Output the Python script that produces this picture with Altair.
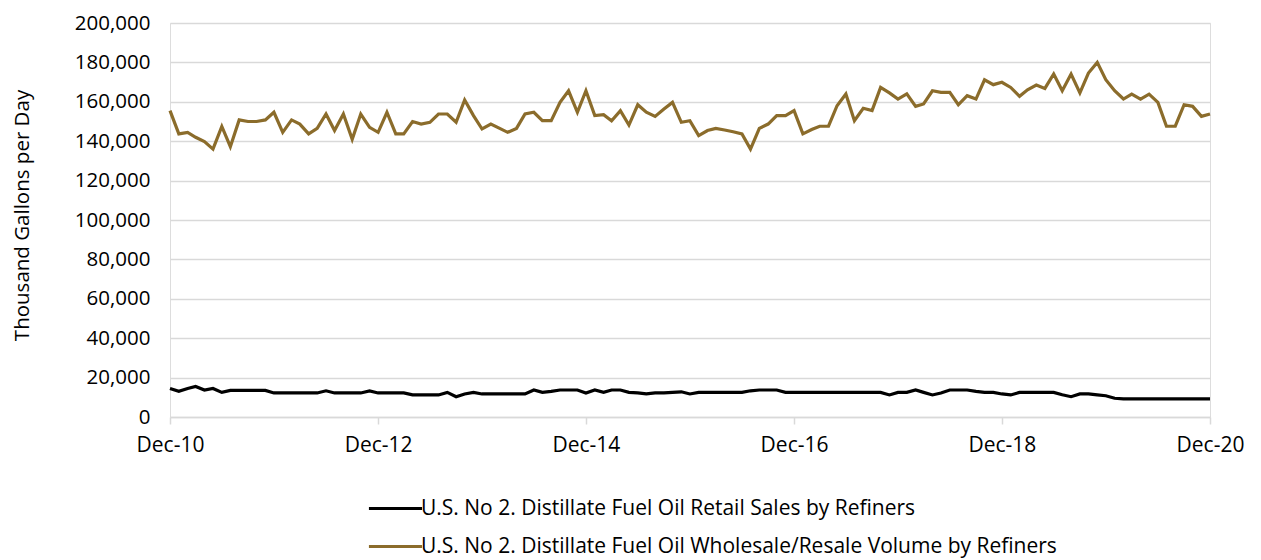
import altair as alt
import pandas as pd

# ---- data ----
months = pd.date_range("2010-12-01", "2020-12-01", freq="MS").strftime("%Y-%m-%d").tolist()

series_names = [
    "U.S. No 2. Distillate Fuel Oil Retail Sales by Refiners",
    "U.S. No 2. Distillate Fuel Oil Wholesale/Resale Volume by Refiners",
]

retail = [
    14500, 13000, 14500, 15500, 13700, 14500, 12500, 13500, 13500, 13500, 13500, 13500,
    12200, 12200, 12200, 12200, 12200, 12200, 13300, 12200, 12200, 12200, 12200, 13200,
    12200, 12200, 12200, 12200, 11200, 11200, 11200, 11200, 12500, 10300, 11700, 12500,
    11700, 11700, 11700, 11700, 11700, 11700, 13700, 12500, 13000, 13700, 13700, 13700,
    12200, 13700, 12500, 13700, 13700, 12500, 12200, 11700, 12200, 12200, 12500, 12800,
    11700, 12500, 12500, 12500, 12500, 12500, 12500, 13300, 13700, 13700, 13700, 12500,
    12500, 12500, 12500, 12500, 12500, 12500, 12500, 12500, 12500, 12500, 12500, 11200,
    12500, 12500, 13700, 12500, 11200, 12200, 13700, 13700, 13700, 13000, 12500, 12500,
    11700, 11200, 12500, 12500, 12500, 12500, 12500, 11300, 10300, 11700, 11700, 11200,
    10800, 9500, 9200, 9200, 9200, 9200, 9200, 9200, 9200, 9200, 9200, 9200,
    9200,
]

wholesale = [
    155500, 143700, 144500, 142000, 139800, 136000, 147500, 137200, 150800, 150000, 150000, 150800,
    154700, 144500, 150800, 148700, 143700, 146500, 153800, 145400, 153800, 141000, 153800, 147000,
    144500, 154700, 143700, 143700, 150000, 148700, 149600, 153800, 153800, 149600, 160900, 153000,
    146200, 148700, 146500, 144500, 146500, 153800, 154700, 150400, 150400, 159700, 165600, 154700,
    165600, 153000, 153500, 150400, 155500, 148200, 158500, 154700, 152600, 156300, 159700, 149600,
    150400, 142800, 145400, 146500, 145700, 144800, 143700, 136000, 146500, 148700, 153000, 153000,
    155500, 143700, 145900, 147600, 147600, 158000, 164000, 150400, 156700, 155500, 167300, 164500,
    161400, 164000, 157700, 158900, 165600, 164800, 164800, 158500, 163100, 161400, 171200, 168700,
    169900, 167300, 162800, 166100, 168500, 166800, 174100, 165600, 174100, 164500, 174600, 180000,
    171200, 165600, 161400, 163900, 161400, 163900, 159700, 147600, 147600, 158500, 157700, 152600,
    153800,
]

y_ticks = [0, 20000, 40000, 60000, 80000, 100000, 120000, 140000, 160000, 180000, 200000]
x_tick_years = [2010, 2012, 2014, 2016, 2018, 2020]
line_colors = ["#000000", "#8B6C2B"]

rows = []
for d, v in zip(months, retail):
    rows.append({"date": d, "value": v, "series": series_names[0]})
for d, v in zip(months, wholesale):
    rows.append({"date": d, "value": v, "series": series_names[1]})
df = pd.DataFrame(rows)

FONT = "Open Sans"

chart = (
    alt.Chart(df)
    .mark_line(strokeWidth=3.2, strokeJoin="miter")
    .encode(
        x=alt.X(
            "date:T",
            scale=alt.Scale(type="utc", nice=False),
            axis=alt.Axis(
                values=[alt.DateTime(year=y, month=12, date=1, utc=True) for y in x_tick_years],
                labelExpr="utcFormat(datum.value, '%b-%y')",
                title=None,
                grid=False,
                domain=True,
                domainColor="#d9d9d9",
                domainWidth=1.5,
                ticks=True,
                tickColor="#d9d9d9",
                tickWidth=1.5,
                tickSize=7,
                labelPadding=10,
                labelFlush=False,
                labelAlign="center",
                labelFont=FONT,
                labelFontSize=21,
                labelColor="#000000",
                labelOverlap=False,
            ),
        ),
        y=alt.Y(
            "value:Q",
            scale=alt.Scale(domain=[0, 200000], nice=False),
            axis=alt.Axis(
                values=y_ticks,
                format=",d",
                title="Thousand Gallons per Day",
                titleFont=FONT,
                titleFontSize=20.5,
                titleFontWeight="normal",
                titleColor="#000000",
                titleAngle=-90,
                titleX=-148,
                titleY=192,
                titleAlign="center",
                titleBaseline="middle",
                domain=False,
                ticks=False,
                grid=True,
                gridColor="#d9d9d9",
                gridWidth=1.5,
                labelPadding=20,
                labelFont=FONT,
                labelFontSize=20.5,
                labelColor="#000000",
            ),
        ),
        color=alt.Color(
            "series:N",
            scale=alt.Scale(domain=series_names, range=line_colors),
            legend=alt.Legend(
                orient="none",
                legendX=215,
                legendY=475,
                direction="vertical",
                title=None,
                symbolType="M-5,0H5",
                symbolSize=113,
                symbolStrokeWidth=3,
                labelOffset=15,
                labelFont=FONT,
                labelFontSize=21,
                labelColor="#000000",
                labelLimit=0,
                rowPadding=16,
                padding=0,
            ),
        ),
    )
    .properties(
        width=1040,
        height=394,
        autosize=alt.AutoSizeParams(type="none"),
        padding={"left": 162, "top": 15, "right": 35, "bottom": 146},
    )
    .configure_view(stroke=None)
    .configure(background="white")
)

chart.save("out.html", embed_options={"renderer": "svg", "actions": False})
